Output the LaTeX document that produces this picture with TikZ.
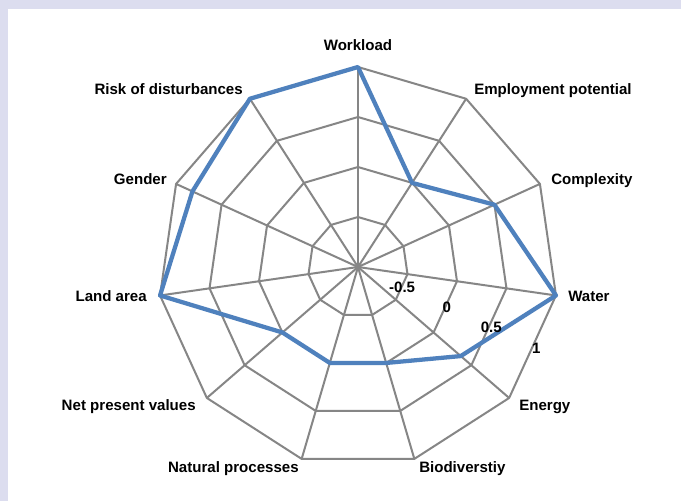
\documentclass[tikz,border=0pt]{standalone}
\usepackage{fontspec}
\setmainfont{Liberation Sans}
\usepackage{tikz}

\definecolor{framelav}{RGB}{220,221,239}
\definecolor{gridgray}{RGB}{134,134,134}
\definecolor{seriesblue}{RGB}{79,129,189}

\tikzset{
  gridline/.style={draw=gridgray, line width=1.5pt, line join=round},
  dataline/.style={draw=seriesblue, line width=3.2pt, line join=round},
  axislabel/.style={inner sep=0pt, font=\fontsize{11.3}{13}\selectfont\bfseries},
  ticklabel/.style={inner sep=0pt, font=\fontsize{11.3}{13}\selectfont\bfseries}
}

\begin{document}
\begin{tikzpicture}[x=0.75pt,y=0.75pt]
%set diagram: centre of the chart at (0,0), page of 681 x 501
\useasboundingbox (-358,267) rectangle (323,-234);

%Background frame and white panel
\fill[framelav] (-358,267) rectangle (323,-234);
\fill[white] (-350,258) rectangle (323,-234);

%Spokes
\foreach \i in {0,...,10}
  \draw[gridline] (0,0) -- ({90-360/11*\i}:200);

%Rings at -0.5, 0, 0.5, 1
\foreach \r in {50,100,150,200}
  \draw[gridline] (90:\r) \foreach \i in {1,...,10}{ -- ({90-360/11*\i}:\r)} -- cycle;

%Data points
\foreach \i/\v in {0/1,1/0,2/0.5,3/1,4/0.36,5/0,6/0,7/0,8/1,9/0.82,10/1}
  \coordinate (p\i) at ({90-360/11*\i}:{100*(\v+1)});

%Series
\draw[dataline] (p0) -- (p1) -- (p2) -- (p3) -- (p4) -- (p5) -- (p6) -- (p7) -- (p8) -- (p9) -- (p10) -- cycle;

% Text Node
\node[ticklabel] (tickA) at (-24.5:48.5) {-0.5};
% Text Node
\node[ticklabel] (tickB) at (-24.5:97.5) {0};
% Text Node
\node[ticklabel] (tickC) at (-24.5:146.5) {0.5};
% Text Node
\node[ticklabel] (tickD) at (-24.5:196) {1};

% Text Node
\node[axislabel, anchor=base] (lWorkload) at (0,217) {Workload};
% Text Node
\node[axislabel, anchor=base west] (lEmploy) at (116,173) {Employment potential};
% Text Node
\node[axislabel, anchor=base west] (lComplex) at (193,83) {Complexity};
% Text Node
\node[axislabel, anchor=base west] (lWater) at (210,-34) {Water};
% Text Node
\node[axislabel, anchor=base west] (lEnergy) at (161,-143) {Energy};
% Text Node
\node[axislabel, anchor=base west] (lBiodiv) at (61,-205) {Biodiverstiy};
% Text Node
\node[axislabel, anchor=base east] (lNatural) at (-59,-205) {Natural processes};
% Text Node
\node[axislabel, anchor=base east] (lNPV) at (-162,-143) {Net present values};
% Text Node
\node[axislabel, anchor=base east] (lLand) at (-211,-34) {Land area};
% Text Node
\node[axislabel, anchor=base east] (lGender) at (-191,83) {Gender};
% Text Node
\node[axislabel, anchor=base east] (lRisk) at (-115,173) {Risk of disturbances};

\end{tikzpicture}
\end{document}
